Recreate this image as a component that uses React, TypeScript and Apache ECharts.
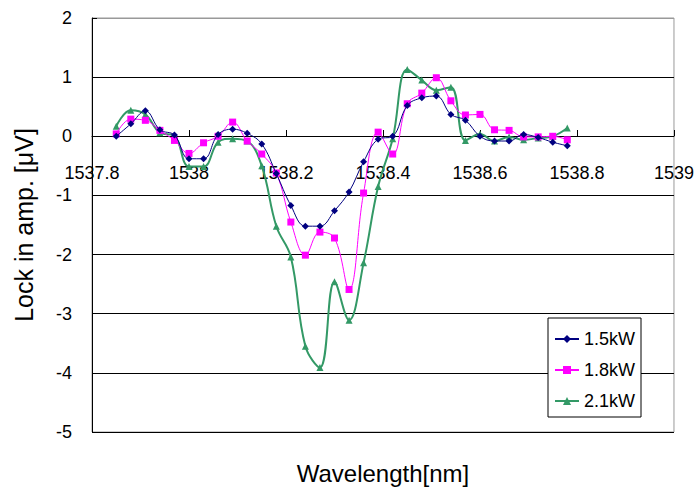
import React, { useEffect, useRef } from "react";
import * as echarts from "echarts";

const wavelengths: number[] = [
  1537.85, 1537.88, 1537.91, 1537.94, 1537.97, 1538.0, 1538.03, 1538.06,
  1538.09, 1538.12, 1538.15, 1538.18, 1538.21, 1538.24, 1538.27, 1538.3,
  1538.33, 1538.36, 1538.39, 1538.42, 1538.45, 1538.48, 1538.51, 1538.54,
  1538.57, 1538.6, 1538.63, 1538.66, 1538.69, 1538.72, 1538.75, 1538.78,
];

const s15kW: number[] = [
  0.0, 0.21, 0.43, 0.11, 0.02, -0.38, -0.38, 0.03, 0.12, 0.05, -0.13, -0.63,
  -1.17, -1.52, -1.52, -1.26, -0.94, -0.43, -0.05, 0.0, 0.52, 0.65, 0.68, 0.37,
  0.27, 0.0, -0.08, -0.08, 0.03, -0.02, -0.1, -0.16,
];

const s18kW: number[] = [
  0.04, 0.29, 0.27, 0.1, -0.07, -0.29, -0.11, 0.0, 0.24, -0.08, -0.3, -0.62,
  -1.45, -2.01, -1.62, -1.72, -2.59, -0.96, 0.07, -0.3, 0.55, 0.73, 0.99, 0.6,
  0.36, 0.37, 0.11, 0.1, -0.01, -0.01, 0.0, -0.06,
];

const s21kW: number[] = [
  0.17, 0.44, 0.37, 0.06, 0.01, -0.51, -0.51, -0.1, -0.04, -0.08, -0.5, -1.52,
  -2.04, -3.55, -3.91, -2.46, -3.11, -2.14, -0.85, -0.04, 1.13, 0.95, 0.78, 0.83,
  -0.07, 0.04, -0.08, -0.01, -0.06, -0.03, 0.0, 0.14,
];

const seriesNames: string[] = ["1.5kW", "1.8kW", "2.1kW"];
const xTitle = "Wavelength[nm]";
const yTitle = "Lock in amp. [μV]";

const FONT = "'Liberation Sans', Arial, sans-serif";

export default function App() {
  const ref = useRef<HTMLDivElement>(null);

  useEffect(() => {
    if (!ref.current) return;
    const chart = echarts.init(ref.current, undefined, { renderer: "svg" });
    const pair = (ys: number[]) => wavelengths.map((x, i) => [x, ys[i]]);
    const option: any = {
      animation: false,
      backgroundColor: "#ffffff",
      textStyle: { fontFamily: FONT },
      grid: {
        left: 92,
        right: 23,
        top: 18,
        bottom: 56,
        show: true,
        borderColor: "#999999",
        borderWidth: 1,
        backgroundColor: "transparent",
      },
      xAxis: {
        type: "value",
        position: "bottom",
        offset: -296,
        min: 1537.8,
        max: 1539,
        interval: 0.2,
        axisLine: { show: true, onZero: false, lineStyle: { color: "#000", width: 1 } },
        axisTick: { show: true, inside: true, length: 6, lineStyle: { color: "#000" } },
        axisLabel: {
          fontSize: 18,
          color: "#000",
          margin: 28,
          fontFamily: FONT,
          formatter: (v: number) => String(parseFloat(v.toFixed(1))),
        },
        splitLine: { show: false },
      },
      yAxis: {
        type: "value",
        min: -5,
        max: 2,
        interval: 1,
        name: yTitle,
        nameLocation: "middle",
        nameGap: 56,
        nameRotate: 90,
        nameTextStyle: { fontSize: 25, color: "#000", fontFamily: FONT },
        axisLine: { show: true, onZero: false, lineStyle: { color: "#000", width: 1 } },
        axisTick: { show: true, inside: true, length: 5, lineStyle: { color: "#000" } },
        axisLabel: { fontSize: 18, color: "#000", margin: 20, fontFamily: FONT },
        splitLine: {
          show: true,
          lineStyle: {
            color: ["#000", "#000", "#000", "#000", "#000", "#000", "#000", "#999"],
            width: 1,
          },
        },
      },
      legend: {
        orient: "vertical",
        left: 548,
        top: 318,
        backgroundColor: "#ffffff",
        borderColor: "#000",
        borderWidth: 1,
        padding: [11, 6, 6, 6],
        itemGap: 11,
        itemWidth: 24,
        itemHeight: 10,
        textStyle: { fontSize: 18, color: "#000", lineHeight: 20, fontFamily: FONT },
        data: seriesNames,
      },
      graphic: [
        {
          type: "text",
          x: 383,
          y: 473,
          style: {
            text: xTitle,
            fontSize: 24,
            fill: "#000",
            fontFamily: FONT,
            align: "center",
            verticalAlign: "middle",
          },
        },
      ],
      series: [
        {
          name: seriesNames[0],
          type: "line",
          data: pair(s15kW),
          smooth: 0.4,
          symbol: "diamond",
          symbolSize: 7,
          color: "#000080",
          lineStyle: { width: 1, color: "#000080" },
          itemStyle: { color: "#000080" },
          z: 4,
        },
        {
          name: seriesNames[1],
          type: "line",
          data: pair(s18kW),
          smooth: 0.4,
          symbol: "rect",
          symbolSize: 7,
          color: "#ff00ff",
          lineStyle: { width: 1, color: "#ff00ff" },
          itemStyle: { color: "#ff00ff" },
          z: 3,
        },
        {
          name: seriesNames[2],
          type: "line",
          data: pair(s21kW),
          smooth: 0.4,
          symbol: "triangle",
          symbolSize: 7,
          color: "#339966",
          lineStyle: { width: 2, color: "#339966" },
          itemStyle: { color: "#339966" },
          z: 2,
        },
      ],
    };
    chart.setOption(option);
    return () => chart.dispose();
  }, []);

  return (
    <div
      ref={ref}
      style={{ position: "absolute", left: 0, top: 0, width: 697, height: 488 }}
    />
  );
}
